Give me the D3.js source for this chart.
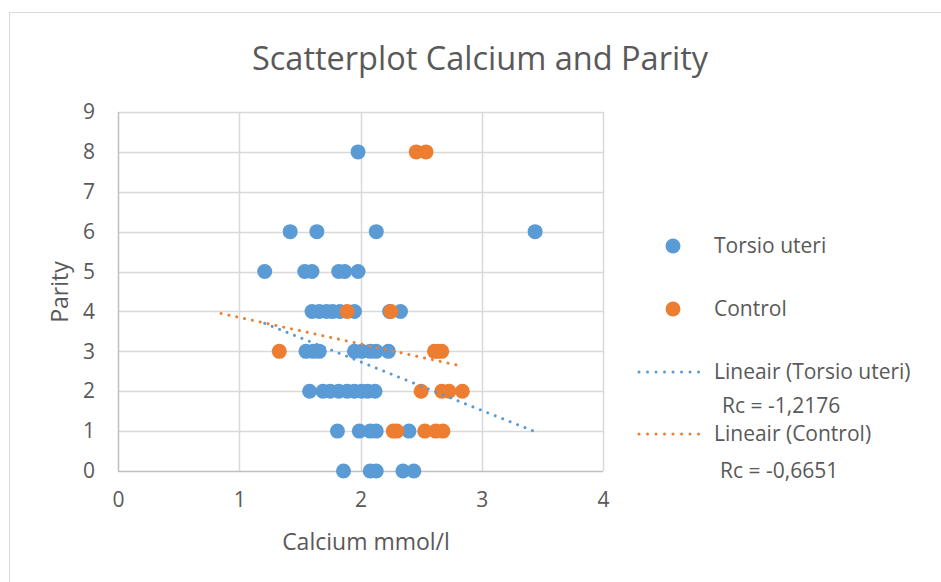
<!DOCTYPE html>
<html>
<head>
<meta charset="utf-8">
<script src="https://cdn.jsdelivr.net/npm/d3@7"></script>
<style>
  html, body { margin: 0; padding: 0; background: #fff; }
  svg { display: block; }
  text { font-family: "Open Sans", "Noto Sans", sans-serif; fill: #595959; }
</style>
</head>
<body>
<svg id="chart" width="941" height="582"></svg>
<script>
// ---- Data ----
const title = "Scatterplot Calcium and Parity";
const xTitle = "Calcium mmol/l";
const yTitle = "Parity";
const xTicks = [0, 1, 2, 3, 4];
const yTicks = [0, 1, 2, 3, 4, 5, 6, 7, 8, 9];

const seriesNames = ["Torsio uteri", "Control"];
const seriesColors = ["#5B9BD5", "#ED7D31"];

const torsioCalcium = [
  1.98,
  1.42, 1.64, 2.13, 3.44,
  1.21, 1.54, 1.60, 1.82, 1.87, 1.98,
  1.60, 1.66, 1.72, 1.77, 1.83, 1.95, 2.24, 2.33,
  1.55, 1.61, 1.66, 1.95, 2.01, 2.08, 2.13, 2.23,
  1.58, 1.69, 1.75, 1.82, 1.89, 1.95, 2.01, 2.06, 2.12,
  1.81, 1.99, 2.08, 2.13, 2.40,
  1.86, 2.08, 2.13, 2.35, 2.44
];
const torsioParity = [
  8,
  6, 6, 6, 6,
  5, 5, 5, 5, 5, 5,
  4, 4, 4, 4, 4, 4, 4, 4,
  3, 3, 3, 3, 3, 3, 3, 3,
  2, 2, 2, 2, 2, 2, 2, 2, 2,
  1, 1, 1, 1, 1,
  0, 0, 0, 0, 0
];

const controlCalcium = [
  2.46, 2.54,
  1.89, 2.25,
  1.33, 2.61, 2.64, 2.67,
  2.50, 2.67, 2.73, 2.84,
  2.27, 2.30, 2.53, 2.62, 2.68
];
const controlParity = [
  8, 8,
  4, 4,
  3, 3, 3, 3,
  2, 2, 2, 2,
  1, 1, 1, 1, 1
];

// Linear trendlines (slope = Rc shown in legend)
const trendNames = ["Lineair (Torsio uteri)", "Lineair (Control)"];
const trendSlope = [-1.2176, -0.6651];
const trendIntercept = [5.173, 4.515];
const trendXStart = [1.21, 0.85];
const trendXEnd = [3.44, 2.79];
const rcLabels = ["Rc = -1,2176", "Rc = -0,6651"];

// ---- Layout ----
const svg = d3.select("#chart");
const plot = { left: 118, top: 112, right: 603, bottom: 471 };

svg.append("rect").attr("x", 0).attr("y", 0).attr("width", 941).attr("height", 582).attr("fill", "#fff");
svg.append("rect").attr("x", 9.5).attr("y", 12.5).attr("width", 1000).attr("height", 1000)
  .attr("fill", "none").attr("stroke", "#d9d9d9").attr("stroke-width", 1);

const x = d3.scaleLinear().domain([0, 4]).range([plot.left, plot.right]);
const y = d3.scaleLinear().domain([0, 9]).range([plot.bottom, plot.top]);

// gridlines
const g = svg.append("g");
g.selectAll("line.vg").data(xTicks.slice(1)).join("line")
  .attr("x1", d => Math.round(x(d)) + 0.5).attr("x2", d => Math.round(x(d)) + 0.5)
  .attr("y1", plot.top).attr("y2", plot.bottom)
  .attr("stroke", "#d9d9d9").attr("stroke-width", 1.5);
g.selectAll("line.hg").data(yTicks.slice(1)).join("line")
  .attr("y1", d => Math.round(y(d)) + 0.5).attr("y2", d => Math.round(y(d)) + 0.5)
  .attr("x1", plot.left).attr("x2", plot.right)
  .attr("stroke", "#d9d9d9").attr("stroke-width", 1.5);

// axes lines
svg.append("line").attr("x1", plot.left + 0.5).attr("x2", plot.left + 0.5)
  .attr("y1", plot.top).attr("y2", plot.bottom + 0.5).attr("stroke", "#bfbfbf").attr("stroke-width", 1.5);
svg.append("line").attr("x1", plot.left).attr("x2", plot.right)
  .attr("y1", plot.bottom + 0.5).attr("y2", plot.bottom + 0.5).attr("stroke", "#bfbfbf").attr("stroke-width", 1.5);

// tick labels via d3 axes (lines hidden)
const xAxis = svg.append("g").attr("transform", `translate(0,${plot.bottom})`)
  .call(d3.axisBottom(x).tickValues(xTicks).tickFormat(d3.format("d")).tickSize(0).tickPadding(21));
const yAxis = svg.append("g").attr("transform", `translate(${plot.left},0)`)
  .call(d3.axisLeft(y).tickValues(yTicks).tickFormat(d3.format("d")).tickSize(0).tickPadding(23));
[xAxis, yAxis].forEach(a => {
  a.select(".domain").remove();
  a.selectAll("text").attr("fill", "#595959").style("font-size", "21px")
    .style("font-family", '"Open Sans", sans-serif');
});
yAxis.selectAll("text").attr("text-anchor", "middle").attr("x", -29);

// Title
svg.append("text").attr("x", 480).attr("y", 70).attr("text-anchor", "middle")
  .style("font-size", "32.5px").text(title);
// Axis titles
svg.append("text").attr("x", 366).attr("y", 550).attr("text-anchor", "middle")
  .style("font-size", "23px").text(xTitle);
svg.append("text").attr("transform", "translate(68,292) rotate(-90)").attr("text-anchor", "middle")
  .style("font-size", "23px").text(yTitle);

// Points
const torsio = torsioCalcium.map((c, i) => ({ c, p: torsioParity[i] }));
const control = controlCalcium.map((c, i) => ({ c, p: controlParity[i] }));
const R = 7.5;
svg.append("g").selectAll("circle").data(torsio).join("circle")
  .attr("cx", d => x(d.c)).attr("cy", d => y(d.p)).attr("r", R).attr("fill", seriesColors[0]);
svg.append("g").selectAll("circle").data(control).join("circle")
  .attr("cx", d => x(d.c)).attr("cy", d => y(d.p)).attr("r", R).attr("fill", seriesColors[1]);

// Trendlines
const dotted = { width: 3, dash: "0.01 8" };
trendSlope.forEach((s, i) => {
  const x0 = trendXStart[i], x1 = trendXEnd[i];
  svg.append("line")
    .attr("x1", x(x0)).attr("y1", y(trendIntercept[i] + s * x0))
    .attr("x2", x(x1)).attr("y2", y(trendIntercept[i] + s * x1))
    .attr("stroke", seriesColors[i]).attr("stroke-width", dotted.width)
    .attr("stroke-linecap", "round").attr("stroke-dasharray", dotted.dash);
});

// Legend
const legend = svg.append("g");
const lgMarkerY = [246, 309];
seriesNames.forEach((n, i) => {
  legend.append("circle").attr("cx", 673).attr("cy", lgMarkerY[i]).attr("r", 7.5).attr("fill", seriesColors[i]);
  legend.append("text").attr("x", 714).attr("y", lgMarkerY[i]).attr("dy", "0.35em")
    .style("font-size", "21px").text(n);
});
const lgLineY = [372, 434];
const lgRcY = [406, 471];
const lgRcX = [722, 720];
trendNames.forEach((n, i) => {
  legend.append("line").attr("x1", 639).attr("x2", 707).attr("y1", lgLineY[i]).attr("y2", lgLineY[i])
    .attr("stroke", seriesColors[i]).attr("stroke-width", dotted.width)
    .attr("stroke-linecap", "round").attr("stroke-dasharray", "0.01 8.5");
  legend.append("text").attr("x", 714).attr("y", lgLineY[i]).attr("dy", "0.35em")
    .style("font-size", "21px").text(n);
  legend.append("text").attr("x", lgRcX[i]).attr("y", lgRcY[i]).attr("dy", "0.35em")
    .style("font-size", "21px").text(rcLabels[i]);
});
</script>
</body>
</html>
